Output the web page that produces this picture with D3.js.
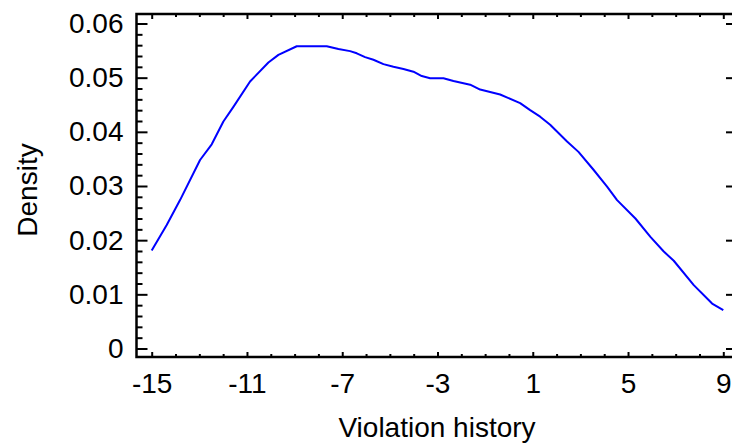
<!DOCTYPE html>
<html>
<head>
<meta charset="utf-8">
<script src="https://cdn.jsdelivr.net/npm/d3@7"></script>
<style>
  html, body { margin: 0; padding: 0; background: #fff; }
  svg { display: block; font-family: "Liberation Sans", Arial, sans-serif; }
</style>
</head>
<body>
<svg id="chart" width="732" height="447"></svg>
<script>
// Data (kernel density of violation history)
const xValues = [-15, -14.37, -13.81, -12.97, -12.48, -11.99, -11.57, -10.87, -10.10, -9.68, -8.91, -7.65, -7.16, -6.67, -6.39, -6.04, -5.69, -5.27, -4.85, -4.43, -4.01, -3.66, -3.31, -2.75, -2.33, -1.63, -1.21, -0.37, 0.47, 0.89, 1.31, 1.73, 2.44, 2.92, 3.55, 4.12, 4.54, 5.31, 5.94, 6.50, 6.92, 7.76, 8.53, 9.0];
const densityValues = [0.0181, 0.0228, 0.0274, 0.0348, 0.0377, 0.0419, 0.0446, 0.0493, 0.0528, 0.0542, 0.0558, 0.0558, 0.0553, 0.0549, 0.0545, 0.0538, 0.0533, 0.0525, 0.0520, 0.0516, 0.0511, 0.0503, 0.0499, 0.0499, 0.0494, 0.0487, 0.0478, 0.0469, 0.0453, 0.0440, 0.0428, 0.0413, 0.0382, 0.0363, 0.0330, 0.0299, 0.0274, 0.0240, 0.0206, 0.0179, 0.0162, 0.0117, 0.0083, 0.0071];
const xMajorTicks = [-15, -11, -7, -3, 1, 5, 9];
const xTickLabels = ["-15", "-11", "-7", "-3", "1", "5", "9"];
const xMinorTicks = d3.range(-15, 10, 1).filter(v => !xMajorTicks.includes(v));
const yMajorTicks = [0, 0.01, 0.02, 0.03, 0.04, 0.05, 0.06];
const yMinorTicks = d3.range(0, 0.0601, 0.002).filter((v, i) => i % 5 !== 0);
const yTickLabels = ["0", "0.01", "0.02", "0.03", "0.04", "0.05", "0.06"];
const xLabel = "Violation history";
const yLabel = "Density";

const svg = d3.select("#chart");
const mLeft = 136.5, mRight = 733, mTop = 14, mBottom = 357;

const x = d3.scaleLinear().domain([-15, 9]).range([151.7, 723.3]);
const y = d3.scaleLinear().domain([0, 0.06]).range([348.5, 23.5]);

const fontSize = 28;

// curve
const line = d3.line().x((d, i) => x(xValues[i])).y(d => y(d));
svg.append("path")
  .datum(densityValues)
  .attr("d", line)
  .attr("fill", "none")
  .attr("stroke", "#0000ff")
  .attr("stroke-width", 2)
  .attr("stroke-linejoin", "round");

function styleAxis(g) {
  g.select(".domain").remove();
  g.selectAll("line").attr("stroke", "#000").attr("stroke-width", 2);
  g.selectAll("text").attr("fill", "#000").style("font-size", fontSize + "px")
    .style("font-family", '"Liberation Sans", Arial, sans-serif');
}

// left axis
svg.append("g").attr("transform", `translate(${mLeft},0)`)
  .call(d3.axisLeft(y).tickValues(yMinorTicks).tickSize(-6).tickFormat(""))
  .call(styleAxis);
svg.append("g").attr("transform", `translate(${mLeft},0)`)
  .call(d3.axisLeft(y).tickValues(yMajorTicks).tickSize(-11).tickPadding(13)
    .tickFormat((d, i) => yTickLabels[i]))
  .call(styleAxis);

// right axis (majors only)
svg.append("g").attr("transform", `translate(${mRight - 1},0)`)
  .call(d3.axisRight(y).tickValues(yMajorTicks).tickSize(-6).tickFormat(""))
  .call(styleAxis);

// bottom axis
svg.append("g").attr("transform", `translate(0,${mBottom})`)
  .call(d3.axisBottom(x).tickValues(xMinorTicks).tickSize(-3).tickFormat(""))
  .call(styleAxis);
svg.append("g").attr("transform", `translate(0,${mBottom})`)
  .call(d3.axisBottom(x).tickValues(xMajorTicks).tickSize(-5).tickPadding(16)
    .tickFormat((d, i) => xTickLabels[i]))
  .call(styleAxis);

// top axis
svg.append("g").attr("transform", `translate(0,${mTop})`)
  .call(d3.axisTop(x).tickValues(xMinorTicks).tickSize(-3).tickFormat(""))
  .call(styleAxis);
svg.append("g").attr("transform", `translate(0,${mTop})`)
  .call(d3.axisTop(x).tickValues(xMajorTicks).tickSize(-5).tickFormat(""))
  .call(styleAxis);

// frame
svg.append("path")
  .attr("d", `M${mRight},${mTop}H${mLeft}V${mBottom}H${mRight}`)
  .attr("fill", "none")
  .attr("stroke", "#000")
  .attr("stroke-width", 2.5);

// axis titles
svg.append("text")
  .attr("x", 437).attr("y", 437)
  .attr("text-anchor", "middle")
  .style("font-size", fontSize + "px")
  .attr("fill", "#000")
  .text(xLabel);

svg.append("text")
  .attr("transform", "translate(37,190) rotate(-90)")
  .attr("text-anchor", "middle")
  .style("font-size", fontSize + "px")
  .attr("fill", "#000")
  .text(yLabel);
</script>
</body>
</html>
